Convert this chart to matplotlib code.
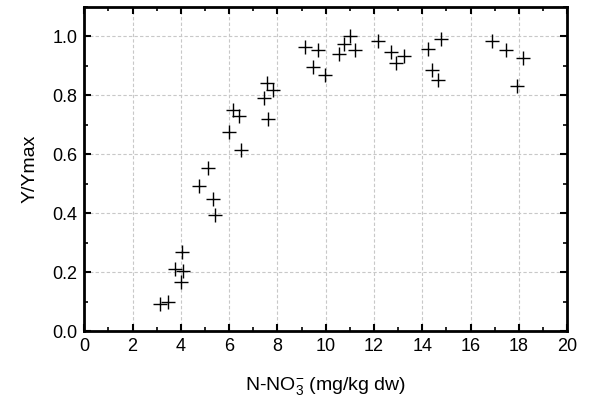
import matplotlib
matplotlib.use("Agg")
import matplotlib.pyplot as plt
from matplotlib.ticker import MultipleLocator, FormatStrFormatter

plt.rcParams["font.family"] = ["Liberation Sans", "DejaVu Sans"]
plt.rcParams["mathtext.fontset"] = "custom"
plt.rcParams["mathtext.rm"] = "Liberation Sans"
plt.rcParams["mathtext.it"] = "Liberation Sans"

# N-NO3- (mg/kg dw) and relative yield
nitrate = [3.14, 3.46, 3.76, 4.11, 4.00, 4.04, 4.76, 5.12, 5.33, 5.42,
           5.98, 6.18, 6.42, 6.49, 7.57, 7.43, 7.81, 7.63,
           9.16, 9.67, 9.47, 9.95, 10.57, 10.75, 11.00, 11.23,
           12.17, 12.71, 12.92, 13.24, 14.25, 14.76, 14.41, 14.66,
           16.90, 17.46, 18.17, 17.94]
rel_yield = [0.091, 0.100, 0.211, 0.203, 0.166, 0.268, 0.493, 0.552, 0.449, 0.395,
             0.676, 0.749, 0.730, 0.614, 0.841, 0.791, 0.816, 0.720,
             0.962, 0.953, 0.895, 0.867, 0.938, 0.974, 0.999, 0.954,
             0.983, 0.945, 0.910, 0.931, 0.957, 0.990, 0.886, 0.850,
             0.983, 0.953, 0.926, 0.831]

fig = plt.figure(figsize=(5.89, 4.13), dpi=100)
ax = fig.add_axes([0.143, 0.198, 0.820, 0.786])

ax.plot(nitrate, rel_yield, linestyle="none", marker="+", color="black",
        markersize=10, markeredgewidth=1.0)

ax.set_xlim(0, 20)
ax.set_ylim(0, 1.1)
ax.xaxis.set_major_locator(MultipleLocator(2))
ax.xaxis.set_minor_locator(MultipleLocator(1))
ax.yaxis.set_major_locator(MultipleLocator(0.2))
ax.yaxis.set_minor_locator(MultipleLocator(0.1))
ax.yaxis.set_major_formatter(FormatStrFormatter("%.1f"))

ax.grid(True, which="major", linestyle=(0, (3, 2)), color="#c8c8c8", linewidth=0.8)
ax.tick_params(which="both", direction="in", top=True, right=True, labelsize=13)
ax.tick_params(which="major", length=5, width=1.5, pad=5)
ax.tick_params(which="minor", length=3, width=1.2)
for s in ax.spines.values():
    s.set_linewidth(2)

ax.set_xlabel("N-NO$_3^{-}$ (mg/kg dw)", fontsize=14, labelpad=14)
ax.set_ylabel("Y/Ymax", fontsize=14, labelpad=10)

fig.savefig("out.png", dpi=100)
